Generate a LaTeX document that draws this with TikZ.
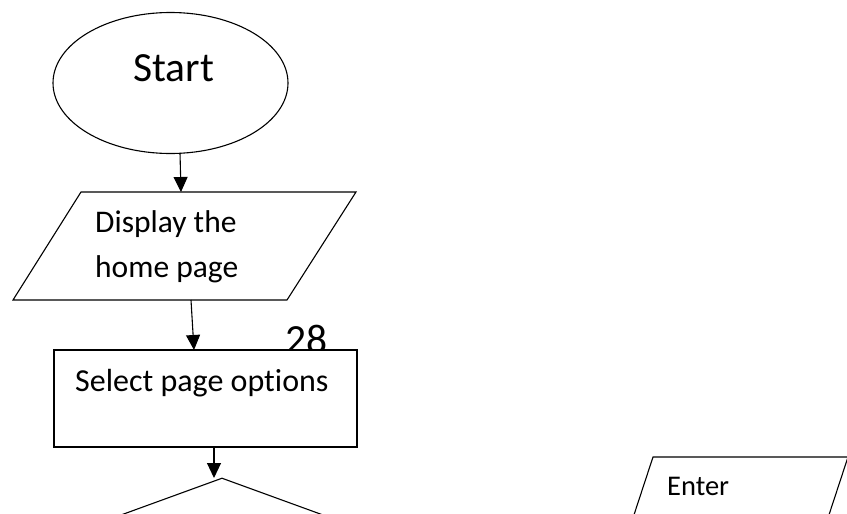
\documentclass[tikz,border=0pt]{standalone}
\usepackage{fontspec}
\setmainfont[Ligatures={NoCommon}]{Carlito}
\usetikzlibrary{shapes.geometric,arrows.meta}
\tikzset{
  shp/.style={draw=black, line width=1.1pt, fill=white},
  arr/.style={draw=black, line width=1.1pt, -{Triangle[length=15pt,width=14pt]}},
  txt/.style={anchor=base west, inner sep=0pt, text=black},
}
\begin{document}
\begin{tikzpicture}[x=1pt,y=-1pt]
\useasboundingbox (0,0) rectangle (847,514);
\clip (0,0) rectangle (847,514);
\fill[white] (0,0) rectangle (847,514);
% Start ellipse
\node[shp, ellipse, minimum width=235pt, minimum height=141pt, inner sep=0pt] (start) at (170.5,83) {};
\node[txt, font=\fontsize{41.5}{50}\selectfont] (starttxt) at (133,81) {Start};
% Display parallelogram
\draw[shp] (81,192) -- (356,192) -- (287,300) -- (13,300) -- cycle;
\node[txt, font=\fontsize{31.5}{44}\selectfont] (disp1) at (95,232) {Display the};
\node[txt, font=\fontsize{31.5}{44}\selectfont] (disp2) at (95,277) {home page};
% page number
\node[txt, font=\fontsize{41.5}{50}\selectfont] (pnum) at (285,353) {28};
% Select rectangle
\node[shp, rectangle, minimum width=303pt, minimum height=97pt, inner sep=0pt] (select) at (205.5,398.5) {};
\node[txt, font=\fontsize{32}{40}\selectfont] (seltxt) at (75,391) {Select page options};
% Decision diamond
\node[shp, diamond, minimum width=274pt, minimum height=100pt, inner sep=0pt] (dec) at (222,528) {};
% Enter parallelogram
\draw[shp] (653,457) -- (848,457) -- (801,600) -- (606,600) -- cycle;
\node[txt, font=\fontsize{28.5}{36}\selectfont] (enter) at (667,495) {Enter};
% connectors
\coordinate (a1s) at (180,153);
\coordinate (a1e) at (181,192);
\coordinate (a2s) at (191,300);
\coordinate (a2e) at (194,350);
\coordinate (a3s) at (214,447);
\coordinate (a3e) at (214,478);
\draw[arr] (a1s) -- (a1e);
\draw[arr] (a2s) -- (a2e);
\draw[arr] (a3s) -- (a3e);
\end{tikzpicture}
\end{document}
